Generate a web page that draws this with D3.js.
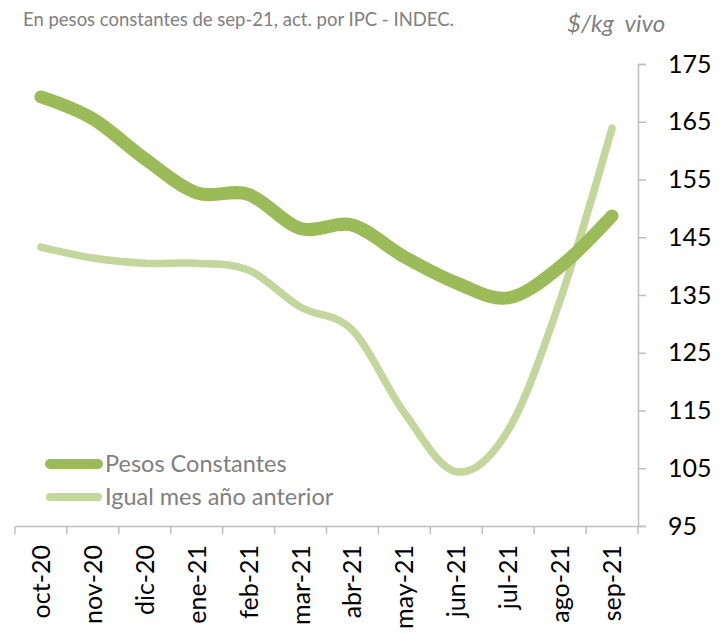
<!DOCTYPE html>
<html>
<head>
<meta charset="utf-8">
<script src="https://cdn.jsdelivr.net/npm/d3@7"></script>
<style>
  body { margin: 0; background: #fff; }
  text { font-family: Lato, "Open Sans", sans-serif; }
</style>
</head>
<body>
<script>
// chart data
var months = ["oct-20", "nov-20", "dic-20", "ene-21", "feb-21", "mar-21",
              "abr-21", "may-21", "jun-21", "jul-21", "ago-21", "sep-21"];
var pesosConstantes = [169.3, 165.5, 158.6, 152.7, 152.4, 146.5, 147.1, 141.6, 137.1, 134.5, 139.9, 148.7];
var igualMesAnterior = [143.3, 141.4, 140.5, 140.5, 139.3, 132.9, 128.9, 114.6, 104.4, 111.6, 134.1, 163.9];
var yTicks = [95, 105, 115, 125, 135, 145, 155, 165, 175];

var width = 726, height = 634;

var svg = d3.select("body").append("svg")
    .attr("width", width)
    .attr("height", height);

// scales
var x = d3.scaleBand().domain(months).range([15, 638]);
var y = d3.scaleLinear().domain([95, 175]).range([526, 64]);

// y axis on the right
var yAxis = svg.append("g")
    .attr("transform", "translate(638,0)")
    .call(d3.axisRight(y).tickValues(yTicks).tickSize(8).tickPadding(22));
yAxis.select(".domain").attr("stroke", "#bfbfbf").attr("stroke-width", 1.5);
yAxis.selectAll(".tick line").attr("stroke", "#bfbfbf").attr("stroke-width", 1.5);
yAxis.selectAll(".tick text")
    .attr("fill", "#000")
    .style("font-size", "25px");

// x axis along the bottom, ticks between the categories
var xAxis = svg.append("g")
    .attr("transform", "translate(0,526)")
    .call(d3.axisBottom(x).tickSize(0).tickPadding(0));
xAxis.select(".domain").attr("stroke", "#bfbfbf").attr("stroke-width", 1.5);
xAxis.selectAll(".tick text")
    .attr("fill", "#000")
    .style("font-size", "25px")
    .attr("text-anchor", "end")
    .attr("transform", "rotate(-90)")
    .attr("x", -19)
    .attr("y", 0)
    .attr("dy", "0.36em");

// boundary tick marks
var bounds = months.map(function(m) { return x(m); }).concat([x.range()[1]]);
svg.append("g").selectAll("line")
    .data(bounds)
    .enter().append("line")
    .attr("x1", function(d) { return d; })
    .attr("x2", function(d) { return d; })
    .attr("y1", 526)
    .attr("y2", 534)
    .attr("stroke", "#bfbfbf")
    .attr("stroke-width", 1.5);

// lines
var line = d3.line()
    .x(function(d, i) { return x(months[i]) + x.bandwidth() / 2; })
    .y(function(d) { return y(d); })
    .curve(d3.curveCardinal.tension(0));

svg.append("path")
    .attr("d", line(igualMesAnterior))
    .attr("fill", "none")
    .attr("stroke", "#c3d69b")
    .attr("stroke-width", 7.5)
    .attr("stroke-linecap", "round");

svg.append("path")
    .attr("d", line(pesosConstantes))
    .attr("fill", "none")
    .attr("stroke", "#9bbb59")
    .attr("stroke-width", 13)
    .attr("stroke-linecap", "round");

// legend
var legend = [
  { name: "Pesos Constantes", color: "#9bbb59", w: 10, y: 464 },
  { name: "Igual mes año anterior", color: "#c3d69b", w: 8, y: 497 }
];
legend.forEach(function(l) {
  svg.append("line")
      .attr("x1", 50).attr("x2", 98)
      .attr("y1", l.y).attr("y2", l.y)
      .attr("stroke", l.color)
      .attr("stroke-width", l.w)
      .attr("stroke-linecap", "round");
  svg.append("text")
      .attr("x", 105)
      .attr("y", l.y + 8)
      .attr("fill", "#7f7f7f")
      .style("font-size", "23.5px")
      .text(l.name);
});

// titles
svg.append("text")
    .attr("x", 23).attr("y", 26)
    .attr("fill", "#808080")
    .style("font-size", "18.5px")
    .text("En pesos constantes de sep-21, act. por IPC - INDEC.");

svg.append("text")
    .attr("x", 567).attr("y", 32)
    .attr("fill", "#808080")
    .style("font-size", "24px")
    .style("font-style", "italic")
    .style("white-space", "pre")
    .text("$/kg  vivo");
</script>
</body>
</html>
